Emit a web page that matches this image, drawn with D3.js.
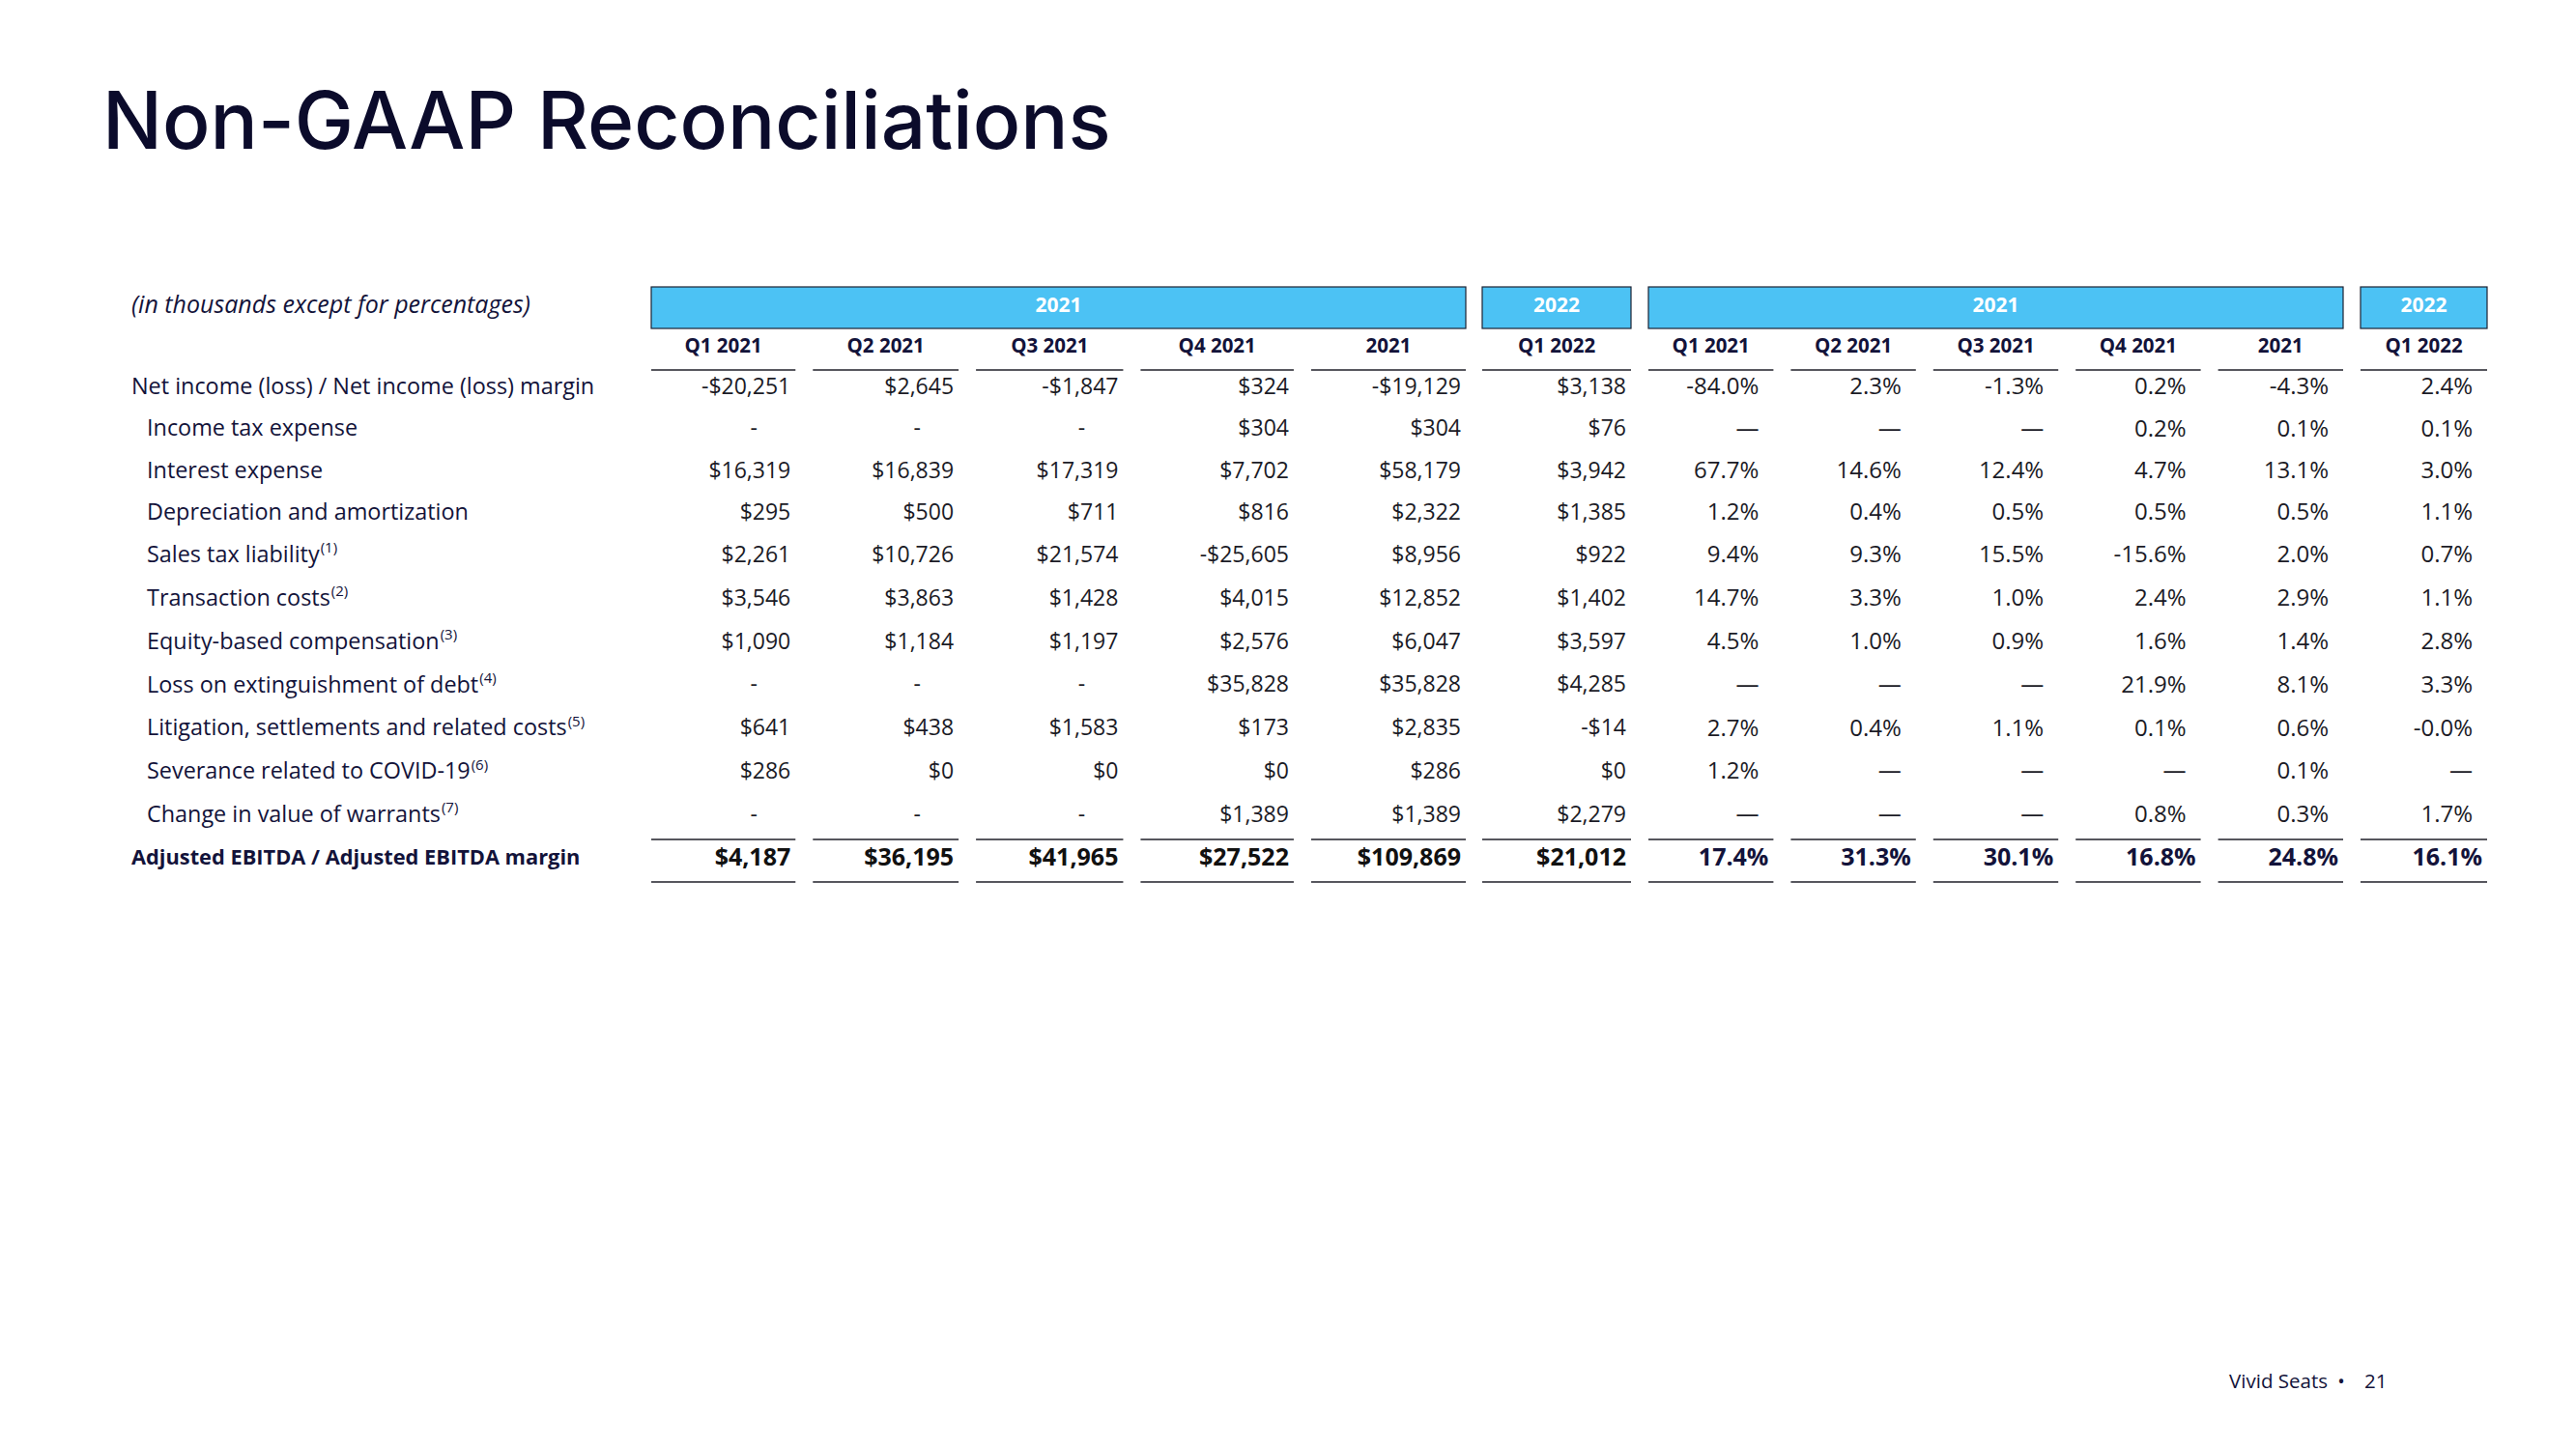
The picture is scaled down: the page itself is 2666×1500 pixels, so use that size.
<!DOCTYPE html>
<html><head><meta charset="utf-8">
<script src="https://cdn.jsdelivr.net/npm/d3@7"></script>
<style>body{margin:0;background:#fff}</style>
</head><body>
<svg id="c" width="2666" height="1500"></svg>
<script>
// ---------------- data ----------------
const title = "Non-GAAP Reconciliations";
const unitNote = "(in thousands except for percentages)";
const periods = ["Q1 2021","Q2 2021","Q3 2021","Q4 2021","2021","Q1 2022"];
const periodYears = ["2021","2021","2021","2021","2021","2022"];
const rowLabels = [
  "Net income (loss) / Net income (loss) margin",
  "Income tax expense",
  "Interest expense",
  "Depreciation and amortization",
  "Sales tax liability",
  "Transaction costs",
  "Equity-based compensation",
  "Loss on extinguishment of debt",
  "Litigation, settlements and related costs",
  "Severance related to COVID-19",
  "Change in value of warrants"
];
const rowNotes = [null,null,null,null,1,2,3,4,5,6,7];
const rowIndent = [0,1,1,1,1,1,1,1,1,1,1];
const totalLabel = "Adjusted EBITDA / Adjusted EBITDA margin";
// $ thousands; null = "-"
const dollarValues = [
  [-20251, 2645, -1847, 324, -19129, 3138],
  [null, null, null, 304, 304, 76],
  [16319, 16839, 17319, 7702, 58179, 3942],
  [295, 500, 711, 816, 2322, 1385],
  [2261, 10726, 21574, -25605, 8956, 922],
  [3546, 3863, 1428, 4015, 12852, 1402],
  [1090, 1184, 1197, 2576, 6047, 3597],
  [null, null, null, 35828, 35828, 4285],
  [641, 438, 1583, 173, 2835, -14],
  [286, 0, 0, 0, 286, 0],
  [null, null, null, 1389, 1389, 2279]
];
const dollarTotals = [4187, 36195, 41965, 27522, 109869, 21012];
// margin %, null = "—"
const marginValues = [
  [-84.0, 2.3, -1.3, 0.2, -4.3, 2.4],
  [null, null, null, 0.2, 0.1, 0.1],
  [67.7, 14.6, 12.4, 4.7, 13.1, 3.0],
  [1.2, 0.4, 0.5, 0.5, 0.5, 1.1],
  [9.4, 9.3, 15.5, -15.6, 2.0, 0.7],
  [14.7, 3.3, 1.0, 2.4, 2.9, 1.1],
  [4.5, 1.0, 0.9, 1.6, 1.4, 2.8],
  [null, null, null, 21.9, 8.1, 3.3],
  [2.7, 0.4, 1.1, 0.1, 0.6, -0.0],
  [1.2, null, null, null, 0.1, null],
  [null, null, null, 0.8, 0.3, 1.7]
];
const marginTotals = [17.4, 31.3, 30.1, 16.8, 24.8, 16.1];
const footerBrand = "Vivid Seats";
const pageNumber = "21";

// ---------------- layout / style ----------------
const FONT = "'Open Sans', sans-serif";
const TITLE_FONT = "Inter, sans-serif";
const NAVY = "#13133a";
const INK = "#1b1b26";
const BLUE = "#4cc2f4";

const svg = d3.select("#c");

svg.append("text").attr("x", 106).attr("y", 154)
  .attr("font-family", TITLE_FONT).attr("font-weight", 500).attr("font-size", 82)
  .attr("fill", "#0b0b2b").text(title);

svg.append("text").attr("x", 136).attr("y", 315).attr("dy", "0.35em")
  .attr("font-family", FONT).attr("font-style", "italic").attr("font-size", 25)
  .attr("fill", NAVY).text(unitNote);

// row positions: rows carrying a footnote are slightly taller
const rowKeys = rowLabels.map((d, i) => "r" + i).concat(["total"]);
const rowH = rowKeys.map((k, i) => (i < rowNotes.length && rowNotes[i] != null) ? 45 : 43.4);
const rowPos = [0];
for (let i = 1; i < rowKeys.length; i++) rowPos.push(rowPos[i - 1] + (rowH[i - 1] + rowH[i]) / 2);
const yLin = d3.scaleLinear().domain([0, rowPos[rowPos.length - 1]]).range([400, 887]);
const y = k => yLin(rowPos[rowKeys.indexOf(k)]);

// row labels
const labelG = svg.append("g");
rowLabels.forEach((lab, i) => {
  const t = labelG.append("text")
    .attr("x", rowIndent[i] ? 152 : 136).attr("y", y("r" + i)).attr("dy", "0.35em")
    .attr("font-family", FONT).attr("font-size", 23.4).attr("fill", NAVY);
  t.append("tspan").text(lab);
  if (rowNotes[i] != null) {
    t.append("tspan").attr("dx", 1).attr("dy", "-0.65em").attr("font-size", 15).text("(" + rowNotes[i] + ")");
  }
});
labelG.append("text").attr("x", 136).attr("y", y("total")).attr("dy", "0.35em")
  .attr("font-family", FONT).attr("font-weight", 700).attr("font-size", 21.8)
  .attr("fill", NAVY).text(totalLabel);

// column layout per block, grouped by year
function groupsOf() {
  const gs = [];
  periodYears.forEach((yr, i) => {
    if (!gs.length || gs[gs.length - 1].year !== yr) gs.push({year: yr, cols: []});
    gs[gs.length - 1].cols.push(i);
  });
  return gs;
}
function makeBlock(groupRanges, gap, weights) {
  const gs = groupsOf();
  const x0 = {}, x1 = {};
  gs.forEach((g, gi) => {
    const [a, b] = groupRanges[gi];
    const n = g.cols.length;
    const ws = g.cols.map(c => weights[c]);
    const avail = (b - a) - gap * (n - 1);
    const scale = d3.scaleLinear().domain([0, d3.sum(ws)]).range([0, avail]);
    let acc = 0;
    g.cols.forEach((c, j) => {
      x0[c] = a + scale(acc) + gap * j;
      acc += ws[j];
      x1[c] = a + scale(acc) + gap * j;
    });
    g.range = [a, b];
  });
  return {groups: gs, x0: c => x0[c], x1: c => x1[c]};
}

const fmtDollar = v => (v < 0 ? "-" : "") + "$" + d3.format(",")(Math.abs(v));
const fmtPct = v => ((v < 0 || Object.is(v, -0)) ? "-" : "") + d3.format(".1f")(Math.abs(v)) + "%";

function drawBlock(block, values, totals, kind) {
  const g = svg.append("g");
  block.groups.forEach(gr => {
    g.append("rect").attr("x", gr.range[0]).attr("y", 297)
      .attr("width", gr.range[1] - gr.range[0]).attr("height", 43)
      .attr("fill", BLUE).attr("stroke", "#1c2233").attr("stroke-width", 1.2);
    g.append("text").attr("x", (gr.range[0] + gr.range[1]) / 2).attr("y", 316).attr("dy", "0.35em")
      .attr("text-anchor", "middle").attr("font-family", FONT).attr("font-weight", 700)
      .attr("font-size", 21).attr("fill", "#fff").text(gr.year);
  });
  periods.forEach((p, c) => {
    const a = block.x0(c), b = block.x1(c);
    g.append("text").attr("x", (a + b) / 2).attr("y", 358).attr("dy", "0.35em")
      .attr("text-anchor", "middle").attr("font-family", FONT).attr("font-weight", 700)
      .attr("font-size", 20.5).attr("fill", NAVY).text(p);
    [y("r0") - 17, y("total") - 18, y("total") + 26].forEach(ly => {
      g.append("line").attr("x1", a).attr("x2", b).attr("y1", ly).attr("y2", ly)
        .attr("stroke", "#1f1f28").attr("stroke-width", 1.5);
    });
    values.forEach((row, r) => {
      const v = row[c];
      const t = g.append("text").attr("y", y("r" + r)).attr("dy", "0.35em")
        .attr("font-family", FONT).attr("font-size", kind === "dollar" ? 23 : 24).attr("fill", INK);
      if (kind === "dollar") {
        if (v == null) t.attr("x", b - 43).attr("text-anchor", "middle").text("-");
        else t.attr("x", b - 5).attr("text-anchor", "end").text(fmtDollar(v));
      } else {
        t.attr("x", b - 15).attr("text-anchor", "end").text(v == null ? "—" : fmtPct(v));
      }
    });
    g.append("text").attr("y", y("total")).attr("dy", "0.35em")
      .attr("x", b - 5).attr("text-anchor", "end")
      .attr("font-family", FONT).attr("font-weight", 700).attr("font-size", 25)
      .attr("fill", kind === "dollar" ? "#111" : NAVY)
      .text(kind === "dollar" ? fmtDollar(totals[c]) : fmtPct(totals[c]));
  });
}

// relative column widths (layout only)
const dollarColWeights = [0.97, 0.98, 0.99, 1.03, 1.04, 1];
const marginColWeights = [1, 1, 1, 1, 1, 1];
drawBlock(makeBlock([[674, 1517], [1534, 1688]], 18, dollarColWeights), dollarValues, dollarTotals, "dollar");
drawBlock(makeBlock([[1706, 2425], [2443, 2574]], 18, marginColWeights), marginValues, marginTotals, "pct");

// footer
svg.append("text").attr("x", 2409).attr("y", 1430).attr("dy", "0.35em").attr("text-anchor", "end")
  .attr("font-family", FONT).attr("font-size", 20.5).attr("fill", NAVY).text(footerBrand);
svg.append("text").attr("x", 2423).attr("y", 1430).attr("dy", "0.35em").attr("text-anchor", "middle")
  .attr("font-family", FONT).attr("font-size", 20).attr("fill", NAVY).text("•");
svg.append("text").attr("x", 2447).attr("y", 1430).attr("dy", "0.35em")
  .attr("font-family", FONT).attr("font-size", 20.5).attr("fill", NAVY).text(pageNumber);
</script>
</body></html>
